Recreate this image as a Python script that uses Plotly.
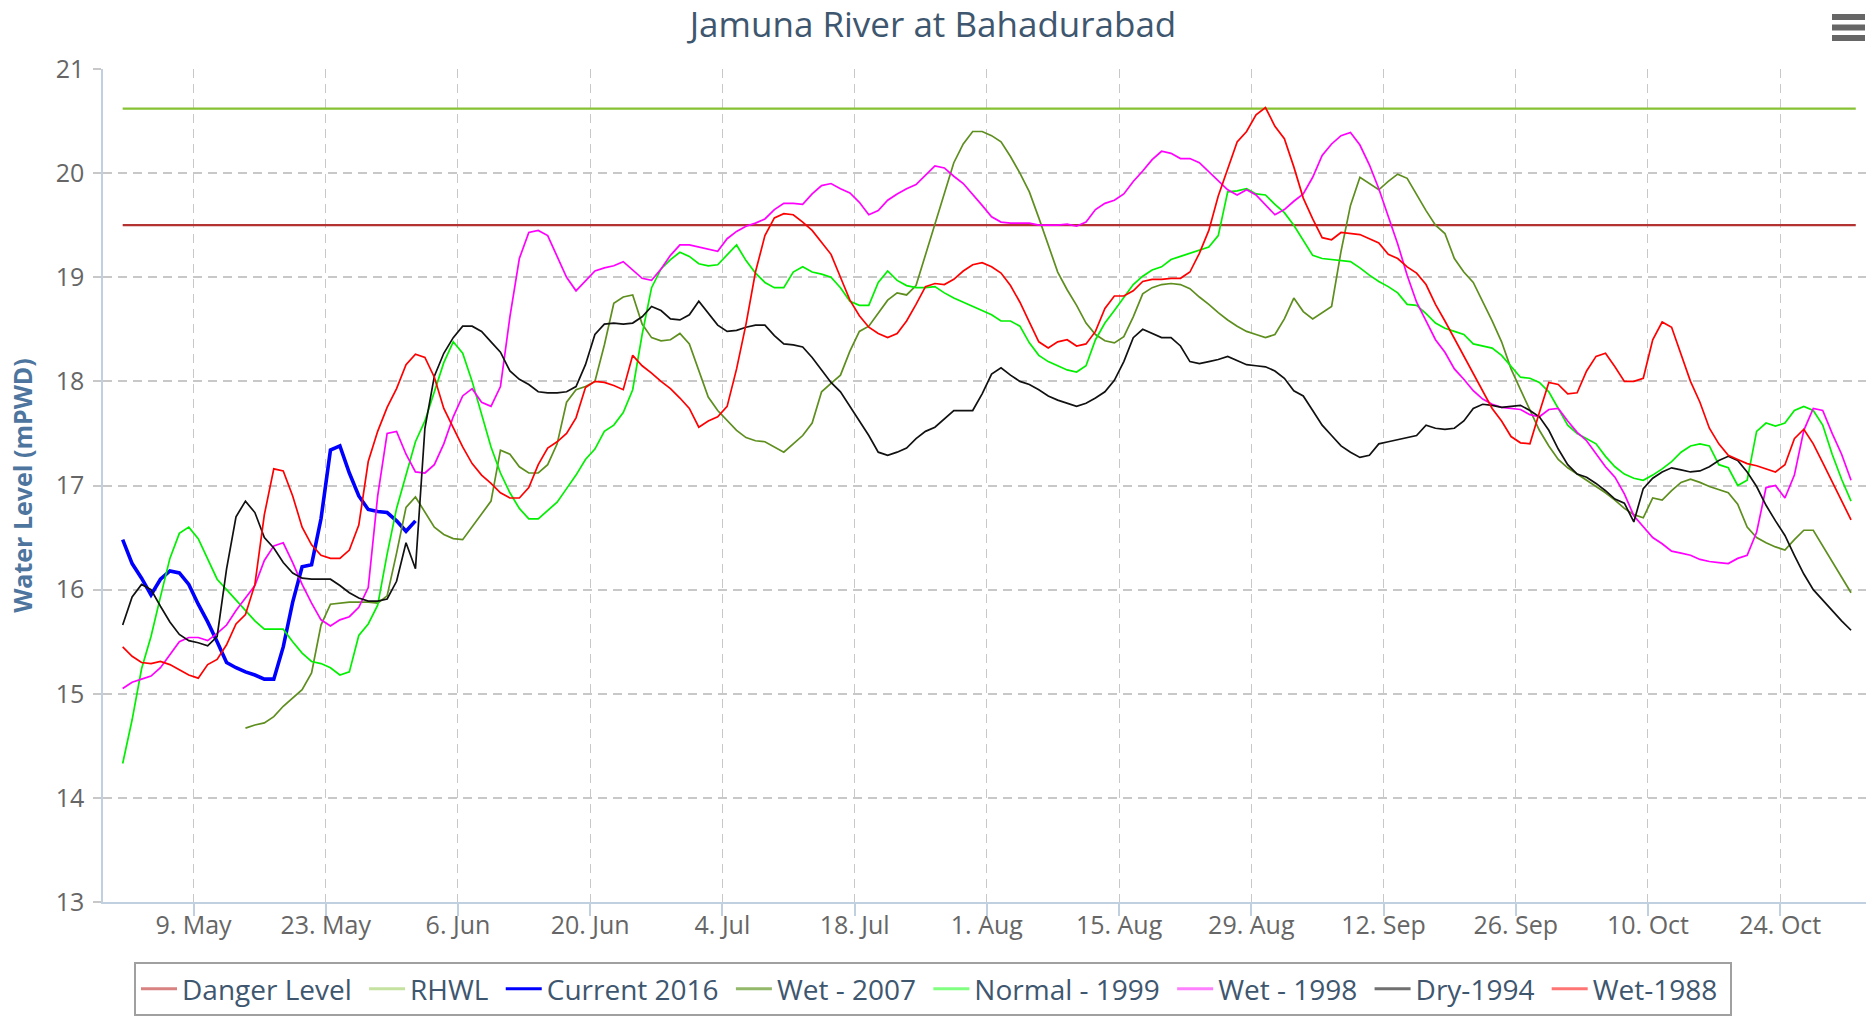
import pandas as pd
import plotly.graph_objects as go

# ---------------- text ----------------
title_text = "Jamuna River at Bahadurabad"
y_axis_title = "Water Level (mPWD)"

# ---------------- thresholds ----------------
danger_level = 19.50
rhwl_level = 20.62
threshold_dates = ["2016-05-01 12:00", "2016-11-01 00:00"]

# ---------------- daily water levels (mPWD) ----------------
season_start = "2016-05-01 12:00"     # first day of every full-season series

current_2016 = [
    16.48, 16.25, 16.11, 15.95, 16.10, 16.18, 16.16, 16.05, 15.86, 15.69, 15.50,
    15.30, 15.25, 15.21, 15.18, 15.14, 15.14, 15.45, 15.88, 16.22, 16.24, 16.68,
    17.34, 17.38, 17.12, 16.90, 16.77, 16.75, 16.74, 16.66, 16.56, 16.66,
]

wet_2007_start = "2016-05-14 12:00"
wet_2007 = [
    # May 14-31
    14.67, 14.70, 14.72, 14.78, 14.88, 14.96, 15.04, 15.20, 15.66, 15.86, 15.87,
    15.88, 15.88, 15.88, 15.87, 15.94, 16.35, 16.79,
    # Jun
    16.89, 16.75, 16.60, 16.53, 16.49, 16.48, 16.60, 16.72, 16.85, 17.34, 17.30,
    17.18, 17.12, 17.12, 17.20, 17.40, 17.80, 17.92, 17.95, 18.00, 18.35, 18.75,
    18.81, 18.83, 18.55, 18.42, 18.39, 18.40, 18.46, 18.36,
    # Jul
    18.10, 17.85, 17.72, 17.63, 17.53, 17.46, 17.43, 17.42, 17.37, 17.32, 17.40,
    17.48, 17.60, 17.90, 17.98, 18.06, 18.29, 18.48, 18.53, 18.66, 18.78, 18.85,
    18.83, 18.92, 19.22, 19.50, 19.80, 20.10, 20.28, 20.40, 20.40,
    # Aug
    20.36, 20.30, 20.16, 20.00, 19.82, 19.57, 19.30, 19.05, 18.88, 18.73, 18.56,
    18.45, 18.39, 18.37, 18.43, 18.62, 18.84, 18.90, 18.93, 18.94, 18.93, 18.89,
    18.81, 18.74, 18.66, 18.59, 18.53, 18.48, 18.45, 18.42, 18.45,
    # Sep
    18.60, 18.80, 18.67, 18.60, 18.66, 18.72, 19.25, 19.69, 19.96, 19.90, 19.84,
    19.92, 19.99, 19.95, 19.79, 19.64, 19.50, 19.42, 19.18, 19.05, 18.95, 18.77,
    18.58, 18.38, 18.12, 17.92, 17.72, 17.53, 17.38, 17.25,
    # Oct
    17.17, 17.11, 17.05, 16.99, 16.93, 16.86, 16.78, 16.72, 16.69, 16.88, 16.86,
    16.95, 17.03, 17.06, 17.03, 16.99, 16.96, 16.93, 16.82, 16.60, 16.50, 16.45,
    16.41, 16.38, 16.48, 16.57, 16.57, 16.42, 16.26, 16.12, 15.97,
]

normal_1999 = [
    # May
    14.33, 14.75, 15.24, 15.55, 15.93, 16.30, 16.54, 16.60, 16.49, 16.30, 16.10,
    16.00, 15.90, 15.80, 15.70, 15.62, 15.62, 15.62, 15.50, 15.39, 15.31, 15.29,
    15.25, 15.18, 15.21, 15.56, 15.67, 15.85, 16.34, 16.78, 17.10,
    # Jun
    17.42, 17.62, 17.90, 18.18, 18.38, 18.27, 18.00, 17.68, 17.37, 17.12, 16.93,
    16.78, 16.68, 16.68, 16.76, 16.84, 16.97, 17.10, 17.25, 17.35, 17.52, 17.58,
    17.70, 17.92, 18.45, 18.90, 19.08, 19.17, 19.24, 19.20,
    # Jul
    19.13, 19.11, 19.12, 19.22, 19.31, 19.16, 19.04, 18.95, 18.90, 18.90, 19.05,
    19.10, 19.05, 19.03, 19.00, 18.90, 18.77, 18.73, 18.73, 18.95, 19.06, 18.97,
    18.92, 18.90, 18.90, 18.91, 18.85, 18.80, 18.76, 18.72, 18.68,
    # Aug
    18.64, 18.58, 18.58, 18.53, 18.37, 18.25, 18.19, 18.15, 18.11, 18.09, 18.15,
    18.40, 18.56, 18.68, 18.80, 18.93, 19.01, 19.07, 19.10, 19.17, 19.20, 19.23,
    19.26, 19.29, 19.40, 19.82, 19.83, 19.85, 19.80, 19.79, 19.70,
    # Sep
    19.62, 19.50, 19.35, 19.21, 19.18, 19.17, 19.16, 19.15, 19.09, 19.02, 18.96,
    18.91, 18.85, 18.74, 18.73, 18.65, 18.56, 18.51, 18.48, 18.45, 18.36, 18.34,
    18.32, 18.25, 18.14, 18.04, 18.03, 17.99, 17.90, 17.74,
    # Oct
    17.58, 17.50, 17.45, 17.40, 17.28, 17.18, 17.11, 17.07, 17.05, 17.10, 17.16,
    17.23, 17.32, 17.38, 17.40, 17.38, 17.20, 17.17, 17.00, 17.05, 17.52, 17.60,
    17.57, 17.60, 17.72, 17.76, 17.72, 17.58, 17.30, 17.06, 16.85,
]

wet_1998 = [
    # May
    15.05, 15.11, 15.14, 15.17, 15.25, 15.38, 15.50, 15.54, 15.54, 15.51, 15.58,
    15.66, 15.80, 15.92, 16.04, 16.28, 16.42, 16.45, 16.26, 16.05, 15.87, 15.71,
    15.65, 15.71, 15.74, 15.83, 16.02, 16.90, 17.50, 17.52, 17.30,
    # Jun
    17.13, 17.12, 17.20, 17.40, 17.66, 17.86, 17.93, 17.80, 17.76, 17.95, 18.62,
    19.18, 19.43, 19.45, 19.40, 19.20, 19.00, 18.87, 18.96, 19.06, 19.09, 19.11,
    19.15, 19.07, 18.99, 18.97, 19.08, 19.21, 19.31, 19.31,
    # Jul
    19.29, 19.27, 19.25, 19.37, 19.44, 19.49, 19.52, 19.56, 19.65, 19.71, 19.71,
    19.70, 19.80, 19.88, 19.90, 19.85, 19.81, 19.72, 19.60, 19.64, 19.74, 19.80,
    19.85, 19.89, 19.98, 20.07, 20.05, 19.97, 19.90, 19.80, 19.69,
    # Aug
    19.58, 19.53, 19.52, 19.52, 19.52, 19.50, 19.50, 19.50, 19.51, 19.49, 19.53,
    19.65, 19.71, 19.74, 19.80, 19.92, 20.02, 20.13, 20.21, 20.19, 20.14, 20.14,
    20.10, 20.01, 19.92, 19.84, 19.79, 19.84, 19.79, 19.69, 19.60,
    # Sep
    19.65, 19.73, 19.80, 19.96, 20.17, 20.28, 20.36, 20.39, 20.27, 20.08, 19.85,
    19.59, 19.32, 19.02, 18.76, 18.58, 18.40, 18.28, 18.12, 18.02, 17.91, 17.83,
    17.78, 17.75, 17.74, 17.73, 17.68, 17.66, 17.73, 17.74,
    # Oct
    17.62, 17.51, 17.43, 17.30, 17.18, 17.08, 16.92, 16.71, 16.60, 16.50, 16.44,
    16.37, 16.35, 16.33, 16.29, 16.27, 16.26, 16.25, 16.30, 16.33, 16.55, 16.98,
    17.00, 16.88, 17.10, 17.53, 17.74, 17.72, 17.50, 17.30, 17.05,
]

dry_1994 = [
    # May
    15.66, 15.93, 16.05, 16.00, 15.84, 15.69, 15.57, 15.51, 15.49, 15.46, 15.55,
    16.20, 16.70, 16.85, 16.74, 16.50, 16.40, 16.26, 16.16, 16.11, 16.10, 16.10,
    16.10, 16.04, 15.97, 15.92, 15.89, 15.89, 15.91, 16.08, 16.45,
    # Jun
    16.20, 17.55, 18.05, 18.27, 18.42, 18.53, 18.53, 18.48, 18.38, 18.28, 18.10,
    18.02, 17.97, 17.90, 17.89, 17.89, 17.90, 17.95, 18.16, 18.45, 18.55, 18.56,
    18.55, 18.56, 18.62, 18.72, 18.68, 18.60, 18.59, 18.64,
    # Jul
    18.77, 18.65, 18.54, 18.48, 18.49, 18.52, 18.54, 18.54, 18.44, 18.36, 18.35,
    18.33, 18.23, 18.11, 17.99, 17.90, 17.76, 17.62, 17.48, 17.32, 17.29, 17.32,
    17.36, 17.45, 17.52, 17.56, 17.64, 17.72, 17.72, 17.72, 17.88,
    # Aug
    18.07, 18.13, 18.06, 18.00, 17.97, 17.92, 17.86, 17.82, 17.79, 17.76, 17.79,
    17.84, 17.90, 18.01, 18.19, 18.42, 18.50, 18.46, 18.42, 18.42, 18.34, 18.19,
    18.17, 18.19, 18.21, 18.24, 18.20, 18.16, 18.15, 18.14, 18.10,
    # Sep
    18.03, 17.91, 17.86, 17.72, 17.58, 17.48, 17.38, 17.32, 17.27, 17.29, 17.40,
    17.42, 17.44, 17.46, 17.48, 17.58, 17.55, 17.54, 17.55, 17.62, 17.74, 17.78,
    17.77, 17.75, 17.76, 17.77, 17.72, 17.66, 17.53, 17.35,
    # Oct
    17.20, 17.11, 17.08, 17.02, 16.95, 16.87, 16.83, 16.65, 16.97, 17.07, 17.13,
    17.17, 17.15, 17.13, 17.14, 17.18, 17.24, 17.28, 17.24, 17.13, 16.99, 16.81,
    16.66, 16.52, 16.33, 16.15, 16.00, 15.90, 15.79, 15.70, 15.61,
]

wet_1988 = [
    # May
    15.45, 15.36, 15.30, 15.29, 15.31, 15.28, 15.23, 15.18, 15.15, 15.28, 15.33,
    15.47, 15.67, 15.76, 16.05, 16.72, 17.16, 17.14, 16.90, 16.60, 16.43, 16.33,
    16.30, 16.30, 16.38, 16.62, 17.23, 17.52, 17.75, 17.93, 18.16,
    # Jun
    18.26, 18.23, 18.04, 17.74, 17.55, 17.37, 17.21, 17.10, 17.02, 16.93, 16.88,
    16.88, 16.98, 17.20, 17.36, 17.42, 17.50, 17.65, 17.94, 18.00, 17.99, 17.96,
    17.92, 18.25, 18.15, 18.08, 18.00, 17.93, 17.84, 17.74,
    # Jul
    17.56, 17.62, 17.66, 17.76, 18.12, 18.55, 19.05, 19.40, 19.57, 19.61, 19.60,
    19.53, 19.45, 19.33, 19.22, 19.00, 18.78, 18.63, 18.52, 18.46, 18.42, 18.46,
    18.58, 18.74, 18.91, 18.94, 18.93, 18.98, 19.06, 19.12, 19.14,
    # Aug
    19.10, 19.04, 18.92, 18.76, 18.57, 18.38, 18.32, 18.38, 18.40, 18.34, 18.36,
    18.48, 18.70, 18.82, 18.82, 18.87, 18.96, 18.98, 18.98, 18.99, 18.99, 19.05,
    19.23, 19.45, 19.78, 20.03, 20.30, 20.40, 20.56, 20.63, 20.45,
    # Sep
    20.33, 20.06, 19.76, 19.56, 19.38, 19.36, 19.43, 19.42, 19.41, 19.37, 19.33,
    19.22, 19.18, 19.10, 19.04, 18.93, 18.74, 18.58, 18.41, 18.24, 18.07, 17.91,
    17.74, 17.62, 17.47, 17.41, 17.40, 17.70, 17.99, 17.97,
    # Oct
    17.88, 17.89, 18.10, 18.24, 18.27, 18.14, 18.00, 18.00, 18.03, 18.40, 18.57,
    18.52, 18.27, 18.00, 17.80, 17.55, 17.40, 17.29, 17.25, 17.21, 17.19, 17.16,
    17.13, 17.20, 17.45, 17.54, 17.40, 17.22, 17.04, 16.86, 16.67,
]

# ---------------- axis ----------------
tick_dates = ["2016-05-09", "2016-05-23", "2016-06-06", "2016-06-20", "2016-07-04",
              "2016-07-18", "2016-08-01", "2016-08-15", "2016-08-29", "2016-09-12",
              "2016-09-26", "2016-10-10", "2016-10-24"]
tick_labels = ["9. May", "23. May", "6. Jun", "20. Jun", "4. Jul", "18. Jul", "1. Aug",
               "15. Aug", "29. Aug", "12. Sep", "26. Sep", "10. Oct", "24. Oct"]
x_range = ["2016-04-29 10:00", "2016-11-02 02:00"]
y_range = [13, 21]

for name, s in [("normal", normal_1999), ("w98", wet_1998), ("d94", dry_1994), ("w88", wet_1988)]:
    assert len(s) == 184, (name, len(s))
assert len(wet_2007) == 171, len(wet_2007)


def days(start, values):
    return pd.date_range(start, periods=len(values), freq="D")


FONT = "Open Sans, Lato, Arial, sans-serif"
PAD = "\u00a0"   # a little extra room after each legend label

series = [
    # name, x, y, line color, legend color, width
    ("Danger Level", threshold_dates, [danger_level, danger_level], "#B33232", "#D98282", 2.2),
    ("RHWL", threshold_dates, [rhwl_level, rhwl_level], "#86C232", "#C6E2A0", 2.2),
    ("Current 2016", days(season_start, current_2016), current_2016, "#0000FF", "#0000FF", 3.6),
    ("Wet - 2007", days(wet_2007_start, wet_2007), wet_2007, "#5E8E1E", "#94B86A", 1.7),
    ("Normal - 1999", days(season_start, normal_1999), normal_1999, "#00F000", "#80FF80", 1.7),
    ("Wet - 1998", days(season_start, wet_1998), wet_1998, "#FF00FF", "#FF80FF", 1.7),
    ("Dry-1994", days(season_start, dry_1994), dry_1994, "#111111", "#707070", 1.7),
    ("Wet-1988", days(season_start, wet_1988), wet_1988, "#FF0000", "#FF7575", 1.7),
]

fig = go.Figure()
for name, xs, ys, color, _lc, width in series:
    fig.add_trace(go.Scatter(x=list(xs), y=ys, mode="lines", name=name,
                             line=dict(color=color, width=width),
                             showlegend=False, hoverinfo="skip"))
# legend entries (lighter symbol colours as in the original legend)
for name, _xs, _ys, _color, lcolor, _w in series:
    fig.add_trace(go.Scatter(x=[None], y=[None], mode="lines", name=name + PAD,
                             line=dict(color=lcolor, width=3), showlegend=True))

W, H = 1868, 1018
ML, MR, MT, MB = 103, 2, 69, 116
PW, PH = W - ML - MR, H - MT - MB


def px_x(page_px):
    return (page_px - ML) / PW


def px_y(page_py):
    return (H - MB - page_py) / PH


shapes = []
for yb in (17, 27.5, 38):
    shapes.append(dict(type="line", xref="paper", yref="paper",
                       x0=px_x(1832), x1=px_x(1865), y0=px_y(yb), y1=px_y(yb),
                       line=dict(color="#666666", width=6)))

fig.update_layout(
    width=W, height=H,
    margin=dict(l=ML, r=MR, t=MT, b=MB, autoexpand=False),
    paper_bgcolor="white", plot_bgcolor="white",
    font=dict(family=FONT, color="#666666"),
    title=dict(text=title_text, x=933 / W, xanchor="center", xref="container",
               y=1 - 24.5 / H, yanchor="middle", yref="container",
               font=dict(family=FONT, size=35, color="#3E576F")),
    xaxis=dict(type="date", range=x_range, tickvals=tick_dates, ticktext=tick_labels,
               showgrid=True, gridcolor="#C8C8C8", gridwidth=1, griddash="9px,6px",
               showline=True, linecolor="#C0D0E0", linewidth=2,
               ticks="outside", ticklen=12, tickcolor="#C0D0E0", tickwidth=1.5,
               ticklabelstandoff=-12,
               tickfont=dict(family=FONT, size=25, color="#666666"),
               zeroline=False, fixedrange=True),
    yaxis=dict(range=y_range, tickmode="linear", tick0=13, dtick=1,
               showgrid=True, gridcolor="#C8C8C8", gridwidth=1.5, griddash="9px,6px",
               showline=True, linecolor="#C0D0E0", linewidth=1.5,
               ticks="outside", ticklen=8, tickcolor="#C8C8C8", tickwidth=1.5,
               ticklabelstandoff=4,
               tickfont=dict(family=FONT, size=25, color="#666666"),
               title=dict(text="<b>" + y_axis_title + "</b>", standoff=16,
                          font=dict(family=FONT, size=25, color="#4D759E")),
               zeroline=False, fixedrange=True),
    legend=dict(orientation="h", x=px_x(933), xanchor="center", y=px_y(962), yanchor="top",
                font=dict(family=FONT, size=28, color="#3E576F"),
                bordercolor="#A0A0A0", borderwidth=2, bgcolor="white",
                traceorder="normal", itemwidth=36),
    shapes=shapes,
    showlegend=True,
)

# the page body would otherwise add an 8px margin around the figure
fig.write_html("out.html", config={"displayModeBar": False},
               post_script="document.body.style.margin='0px';")
